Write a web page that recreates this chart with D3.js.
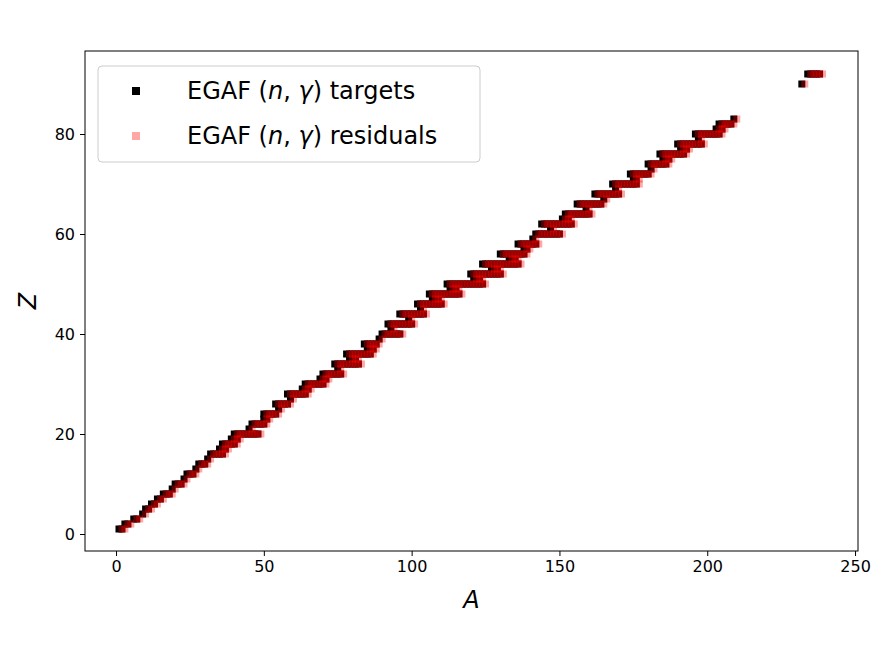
<!DOCTYPE html><html><head><meta charset="utf-8"><script src="https://cdn.jsdelivr.net/npm/d3@7"></script>
<style>body{margin:0;background:#fff}text{font-family:"DejaVu Sans",sans-serif}</style></head><body><svg id="c" width="890" height="665"></svg>
<script>
// Per element Z: range of target mass numbers A
const zVals=[1,2,3,4,5,6,7,8,9,10,11,12,13,14,15,16,17,18,19,20,21,22,23,24,25,26,27,28,29,30,31,32,33,34,35,36,37,38,39,40,41,42,43,44,45,46,47,48,49,50,51,52,53,54,55,56,57,58,59,60,61,62,63,64,65,66,67,68,69,70,71,72,73,74,75,76,77,78,79,80,81,82,83,90,92];
const aMin=[1,3,6,9,10,12,14,16,19,20,23,24,27,28,31,32,35,36,39,40,45,46,50,50,55,54,59,58,63,64,69,70,75,74,79,78,85,84,89,90,93,92,99,96,103,102,107,106,113,112,121,120,127,124,133,130,138,136,141,142,147,144,151,152,159,156,165,162,169,168,175,174,181,180,185,184,191,190,197,196,203,204,209,232,234];
const aMax=[2,4,7,9,11,13,15,18,19,22,23,26,27,30,31,36,37,40,41,48,45,50,51,54,55,58,59,64,65,70,71,76,75,82,81,86,87,88,89,96,93,100,99,104,103,110,109,116,115,124,123,130,129,136,135,138,139,142,141,150,147,154,153,160,159,164,165,170,169,176,176,180,181,186,187,192,193,198,197,204,205,208,209,232,238];
const xTicks=[0,50,100,150,200,250], yTicks=[0,20,40,60,80];
const targets=[];
zVals.forEach((z,i)=>{for(let a=aMin[i];a<=aMax[i];a++)targets.push({A:a,Z:z});});
const residuals=targets.map(d=>({A:d.A+1,Z:d.Z}));
const svg=d3.select("#c");
const L=85,R=858,T=51,B=551;
const x=d3.scaleLinear().domain([-10.5,251]).range([L,R]);
const y=d3.scaleLinear().domain([-3.4,96.6]).range([B,T]);
const s=7;
svg.append("g").selectAll("rect").data(targets).join("rect").attr("x",d=>x(d.A)-s/2).attr("y",d=>y(d.Z)-s/2).attr("width",s).attr("height",s).attr("fill","#000");
svg.append("g").selectAll("rect").data(residuals).join("rect").attr("x",d=>x(d.A)-s/2).attr("y",d=>y(d.Z)-s/2).attr("width",s).attr("height",s).attr("fill","red").attr("fill-opacity",0.35);
svg.append("rect").attr("x",L).attr("y",T).attr("width",R-L).attr("height",B-T).attr("fill","none").attr("stroke","#000");
const ax=svg.append("g").attr("transform",`translate(0,${B})`).call(d3.axisBottom(x).tickValues(xTicks).tickSize(5).tickPadding(5));
const ay=svg.append("g").attr("transform",`translate(${L},0)`).call(d3.axisLeft(y).tickValues(yTicks).tickSize(5).tickPadding(5));
[ax,ay].forEach(g=>{g.select(".domain").remove();g.selectAll("text").attr("font-size",16).attr("font-family","DejaVu Sans");});
svg.append("text").attr("x",(L+R)/2).attr("y",608).attr("text-anchor","middle").attr("font-size",24).attr("font-style","italic").text("A");
svg.append("text").attr("transform",`translate(36,${(T+B)/2}) rotate(-90)`).attr("text-anchor","middle").attr("font-size",24).attr("font-style","italic").text("Z");
const lg=svg.append("g");
lg.append("rect").attr("x",98).attr("y",66).attr("width",382).attr("height",96).attr("rx",4).attr("fill","#fff").attr("fill-opacity",0.8).attr("stroke","#ccc");
lg.append("rect").attr("x",132).attr("y",87).attr("width",8).attr("height",8).attr("fill","#000");
lg.append("rect").attr("x",132).attr("y",132).attr("width",8).attr("height",8).attr("fill","red").attr("fill-opacity",0.35);
const lbl=(yy,w)=>{const t=lg.append("text").attr("x",187).attr("y",yy).attr("font-size",24);
t.append("tspan").text("EGAF (");t.append("tspan").attr("font-style","italic").text("n");t.append("tspan").text(", ");t.append("tspan").attr("font-style","italic").text("γ");t.append("tspan").text(") "+w);};
lbl(99,"targets");lbl(144,"residuals");
</script></body></html>
